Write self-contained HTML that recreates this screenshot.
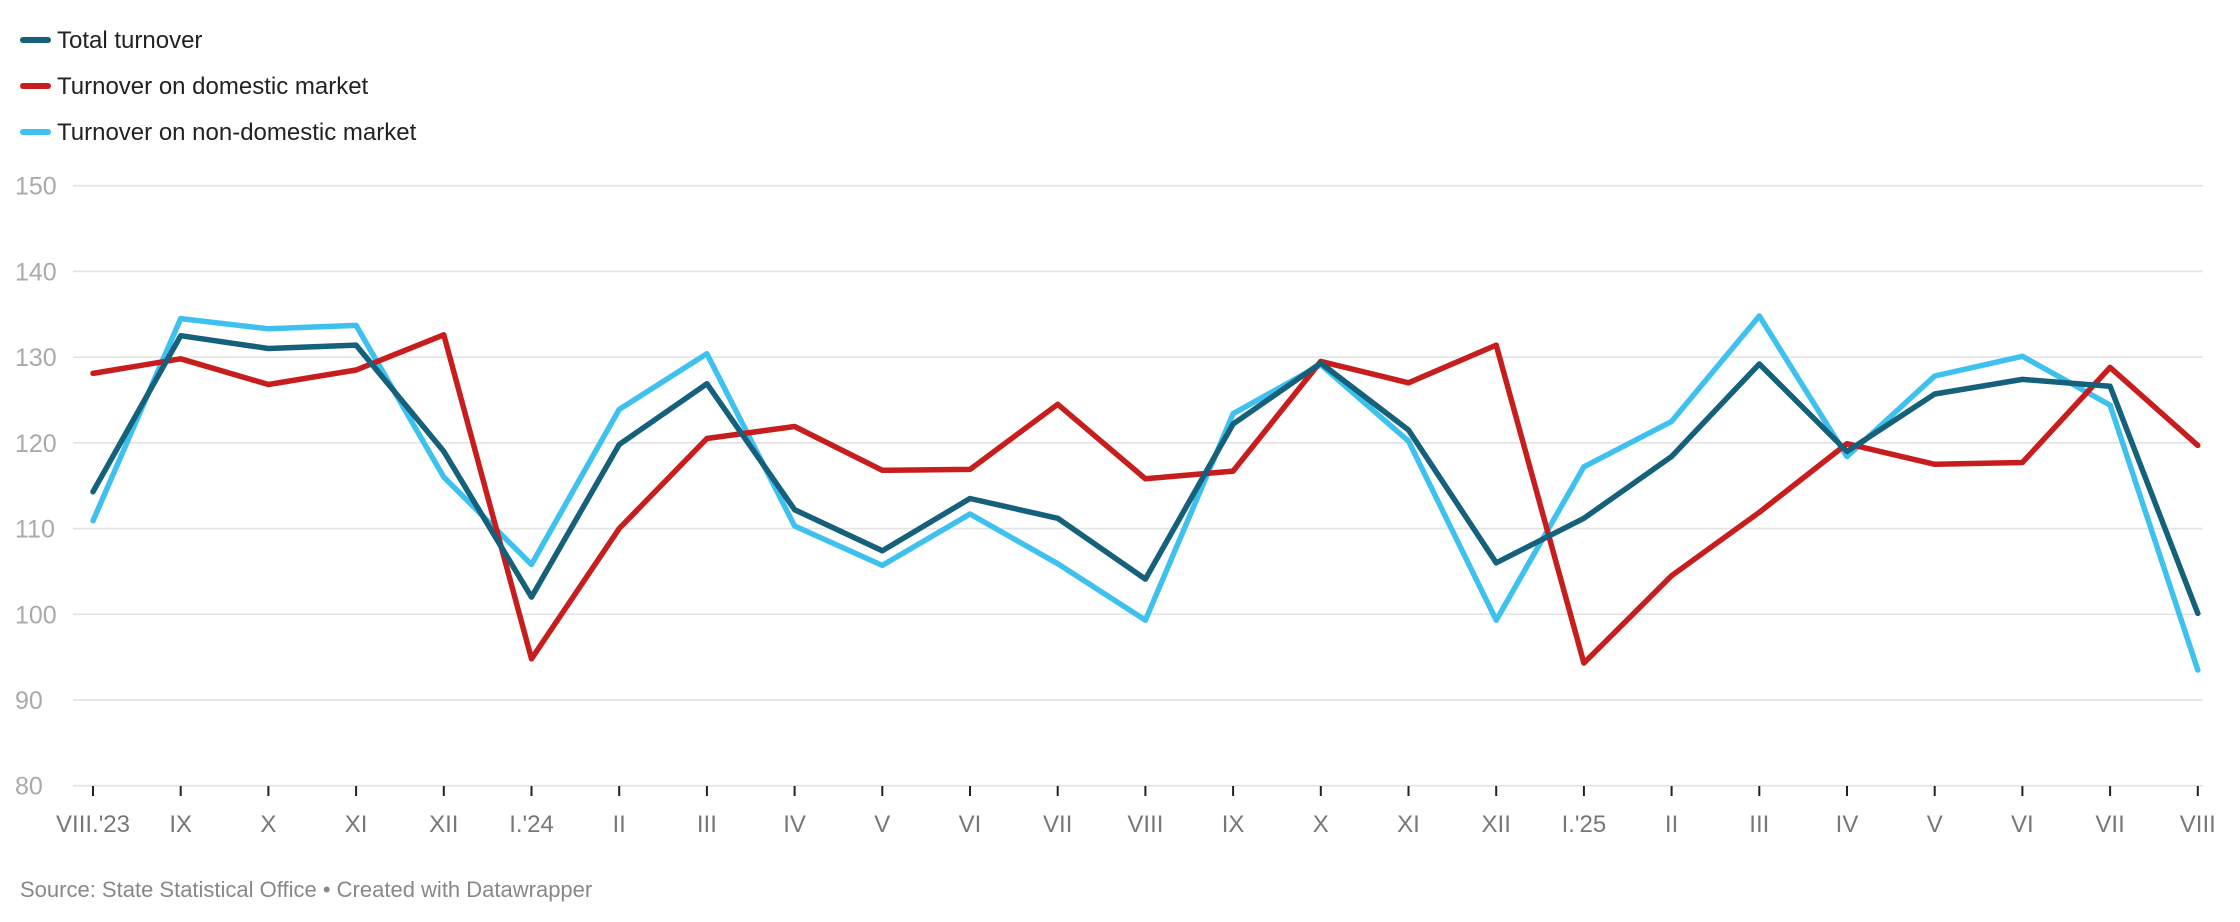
<!DOCTYPE html>
<html><head><meta charset="utf-8"><style>
html,body{margin:0;padding:0;background:#fff;}
svg{display:block;font-family:"Liberation Sans",sans-serif;}
</style></head><body>
<svg id="c" width="2240" height="922" viewBox="0 0 2240 922" xmlns="http://www.w3.org/2000/svg">
<g stroke-linecap="round" stroke-width="6">
<line x1="23" y1="40" x2="48" y2="40" stroke="#15607a"/>
<line x1="23" y1="86" x2="48" y2="86" stroke="#c71e1d"/>
<line x1="23" y1="132" x2="48" y2="132" stroke="#3fc1f0"/>
</g>
<g font-size="24" fill="#222">
<text x="57" y="48">Total turnover</text>
<text x="57" y="94">Turnover on domestic market</text>
<text x="57" y="140">Turnover on non-domestic market</text>
</g>
<g id="grid"></g>
<g id="lines" fill="none" stroke-width="5.5" stroke-linejoin="round" stroke-linecap="round"></g>
<text x="20" y="897" font-size="22" fill="#888">Source: State Statistical Office • Created with Datawrapper</text>
</svg>
<script>
function Y(v){return 185.7+(150-v)*8.571;}
function X(i){return 93+i*87.7;}
var g=document.getElementById('grid'),h='';
for(var v=80;v<=150;v+=10){var y=Y(v);
h+='<line x1="73" x2="2203" y1="'+y+'" y2="'+y+'" stroke="#e3e3e3" stroke-width="1.6"/>';
h+='<text x="15" y="'+(y+9)+'" font-size="25" fill="#aaa">'+v+'</text>';}
var labs=["VIII.'23","IX","X","XI","XII","I.'24","II","III","IV","V","VI","VII","VIII","IX","X","XI","XII","I.'25","II","III","IV","V","VI","VII","VIII"];
for(var i=0;i<25;i++){var x=X(i);
h+='<line x1="'+x+'" x2="'+x+'" y1="786" y2="796" stroke="#222" stroke-width="2"/>';
h+='<text x="'+x+'" y="832" font-size="24" fill="#777" text-anchor="middle">'+labs[i]+'</text>';}
g.innerHTML=h;
var T=[114.3,132.5,131,131.4,119,102,119.8,126.9,112.2,107.4,113.5,111.2,104.1,122.2,129.3,121.5,106,111.2,118.4,129.2,119,125.7,127.4,126.6,100.1];
var D=[128.1,129.8,126.8,128.5,132.6,94.8,110,120.5,121.9,116.8,116.9,124.5,115.8,116.7,129.5,127,131.4,94.3,104.5,111.9,119.9,117.5,117.7,128.8,119.7];
var N=[110.9,134.5,133.3,133.7,116,105.8,123.9,130.4,110.3,105.7,111.7,105.9,99.3,123.4,129.1,120.2,99.3,117.2,122.5,134.8,118.4,127.8,130.1,124.4,93.5];
function path(a,c){return '<polyline stroke="'+c+'" points="'+a.map(function(v,i){return X(i)+','+Y(v).toFixed(1)}).join(' ')+'"/>';}
document.getElementById('lines').innerHTML=path(N,'#3fc1f0')+path(D,'#c71e1d')+path(T,'#15607a');
</script>
</body></html>
